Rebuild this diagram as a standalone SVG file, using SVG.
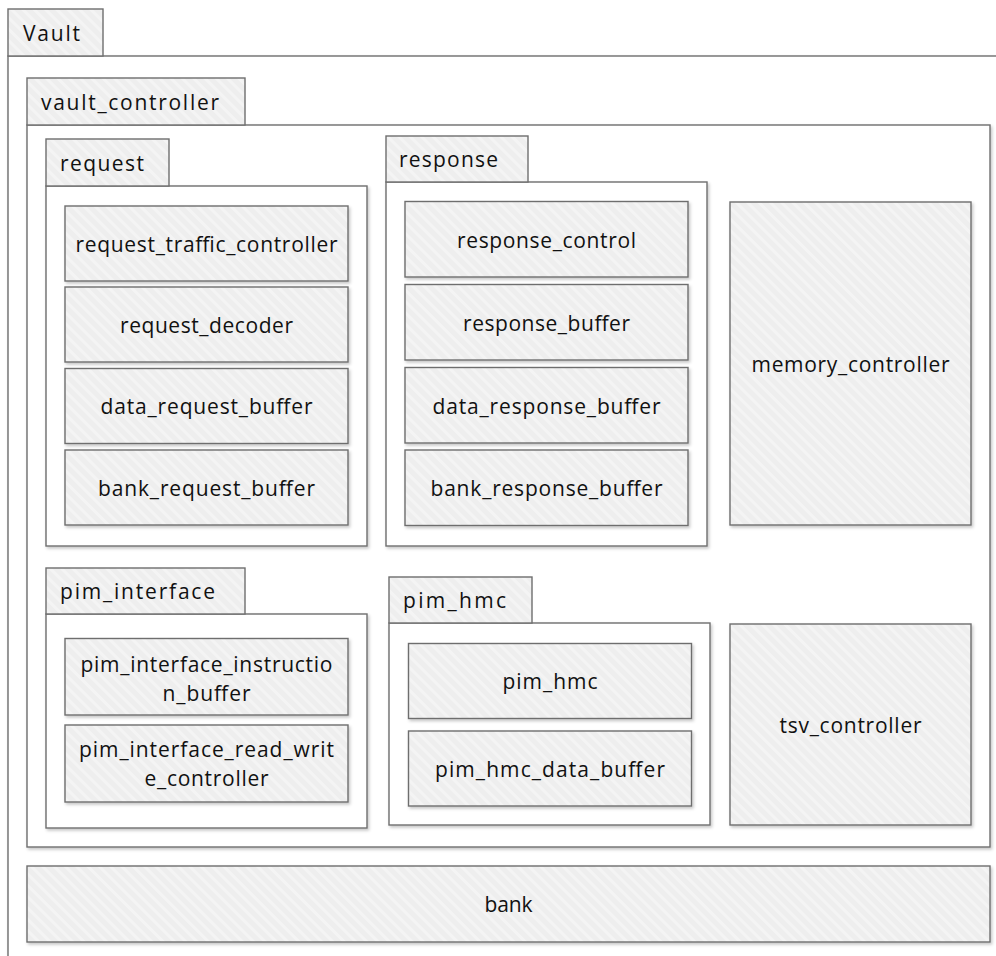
<svg xmlns="http://www.w3.org/2000/svg" width="996" height="956" viewBox="0 0 996 956">
  <defs>
    <pattern id="hatch" width="8" height="8" patternUnits="userSpaceOnUse" patternTransform="rotate(-45)">
      <rect width="8" height="8" fill="#eeeeee"/>
      <rect width="3" height="8" fill="#f4f4f4"/>
    </pattern>
    <filter id="shadow" x="-5%" y="-5%" width="110%" height="115%">
      <feDropShadow dx="1.5" dy="2" stdDeviation="1.5" flood-color="#000" flood-opacity="0.22"/>
    </filter>
  </defs>
  <style>
    .frame { fill: #ffffff; stroke: #6e6e6e; stroke-width: 1.4; filter: url(#shadow); }
    .tab { fill: url(#hatch); stroke: #6e6e6e; stroke-width: 1.4; }
    .box { fill: url(#hatch); stroke: #6e6e6e; stroke-width: 1.4; filter: url(#shadow); }
    text { font-family: "Open Sans", Lato, "Liberation Sans", sans-serif; font-size: 21px; fill: #111111; }
    .c { text-anchor: middle; }
  </style>

  <rect width="996" height="956" fill="#ffffff"/>

  <!-- outer package -->
  <g id="vault">
    <rect class="frame" x="8" y="56" width="1010" height="920"/>
    <rect class="tab" x="8" y="9" width="95" height="47"/>
    <text x="23" y="41" textLength="57" lengthAdjust="spacing">Vault</text>
  </g>

  <g id="vault_controller">
    <rect class="frame" x="27" y="125" width="963" height="722"/>
    <rect class="tab" x="27" y="78" width="218" height="47"/>
    <text x="41" y="110" textLength="178" lengthAdjust="spacing">vault_controller</text>
  </g>

  <!-- request package -->
  <g id="request">
    <rect class="frame" x="46" y="186" width="321" height="360"/>
    <rect class="tab" x="46" y="139" width="123" height="47"/>
    <text x="60" y="171" textLength="84" lengthAdjust="spacing">request</text>
  </g>
  <g id="request_traffic_controller">
    <rect class="box" x="65" y="206" width="283" height="75"/>
    <text class="c" x="206.5" y="251.5" textLength="262" lengthAdjust="spacing">request_traffic_controller</text>
  </g>
  <g id="request_decoder">
    <rect class="box" x="65" y="287" width="283" height="75"/>
    <text class="c" x="206.5" y="332.5" textLength="173" lengthAdjust="spacing">request_decoder</text>
  </g>
  <g id="data_request_buffer">
    <rect class="box" x="65" y="368.5" width="283" height="75"/>
    <text class="c" x="206.5" y="414" textLength="212" lengthAdjust="spacing">data_request_buffer</text>
  </g>
  <g id="bank_request_buffer">
    <rect class="box" x="65" y="450" width="283" height="75"/>
    <text class="c" x="206.5" y="495.5" textLength="217" lengthAdjust="spacing">bank_request_buffer</text>
  </g>

  <!-- response package -->
  <g id="response">
    <rect class="frame" x="386" y="182" width="321" height="364"/>
    <rect class="tab" x="386" y="136" width="142" height="46"/>
    <text x="399" y="167" textLength="99" lengthAdjust="spacing">response</text>
  </g>
  <g id="response_control">
    <rect class="box" x="405" y="201.5" width="283" height="75.5"/>
    <text class="c" x="546.5" y="247.5" textLength="179" lengthAdjust="spacing">response_control</text>
  </g>
  <g id="response_buffer">
    <rect class="box" x="405" y="284.5" width="283" height="75.5"/>
    <text class="c" x="546.5" y="330.5" textLength="167" lengthAdjust="spacing">response_buffer</text>
  </g>
  <g id="data_response_buffer">
    <rect class="box" x="405" y="367.5" width="283" height="75.5"/>
    <text class="c" x="546.5" y="413.5" textLength="228" lengthAdjust="spacing">data_response_buffer</text>
  </g>
  <g id="bank_response_buffer">
    <rect class="box" x="405" y="450" width="283" height="75.5"/>
    <text class="c" x="546.5" y="496" textLength="232" lengthAdjust="spacing">bank_response_buffer</text>
  </g>

  <g id="memory_controller">
    <rect class="box" x="730" y="202" width="241" height="323"/>
    <text class="c" x="850.5" y="371.5" textLength="198" lengthAdjust="spacing">memory_controller</text>
  </g>

  <!-- pim_interface package -->
  <g id="pim_interface">
    <rect class="frame" x="46" y="614" width="321" height="214"/>
    <rect class="tab" x="46" y="568" width="199" height="46"/>
    <text x="60" y="599" textLength="155" lengthAdjust="spacing">pim_interface</text>
  </g>
  <g id="pim_interface_instruction_buffer">
    <rect class="box" x="65" y="638.5" width="283" height="76.5"/>
    <text class="c" x="206.5" y="671.5" textLength="252" lengthAdjust="spacing">pim_interface_instructio</text>
    <text class="c" x="206.5" y="700.5" textLength="88" lengthAdjust="spacing">n_buffer</text>
  </g>
  <g id="pim_interface_read_write_controller">
    <rect class="box" x="65" y="725" width="283" height="77"/>
    <text class="c" x="206.5" y="757" textLength="255" lengthAdjust="spacing">pim_interface_read_writ</text>
    <text class="c" x="206.5" y="786" textLength="124" lengthAdjust="spacing">e_controller</text>
  </g>

  <!-- pim_hmc package -->
  <g id="pim_hmc_package">
    <rect class="frame" x="389" y="623" width="321" height="202"/>
    <rect class="tab" x="389" y="577" width="143" height="46"/>
    <text x="403" y="608" textLength="103" lengthAdjust="spacing">pim_hmc</text>
  </g>
  <g id="pim_hmc">
    <rect class="box" x="408.5" y="643.5" width="283" height="75"/>
    <text class="c" x="550" y="689" textLength="95" lengthAdjust="spacing">pim_hmc</text>
  </g>
  <g id="pim_hmc_data_buffer">
    <rect class="box" x="408.5" y="731" width="283" height="75"/>
    <text class="c" x="550" y="776.5" textLength="230" lengthAdjust="spacing">pim_hmc_data_buffer</text>
  </g>

  <g id="tsv_controller">
    <rect class="box" x="730" y="624" width="241" height="201"/>
    <text class="c" x="850.5" y="732.5" textLength="142" lengthAdjust="spacing">tsv_controller</text>
  </g>

  <g id="bank">
    <rect class="box" x="27" y="866" width="963" height="76"/>
    <text class="c" x="508.5" y="912" textLength="48" lengthAdjust="spacing">bank</text>
  </g>

  <g id="connectors"/>
</svg>
